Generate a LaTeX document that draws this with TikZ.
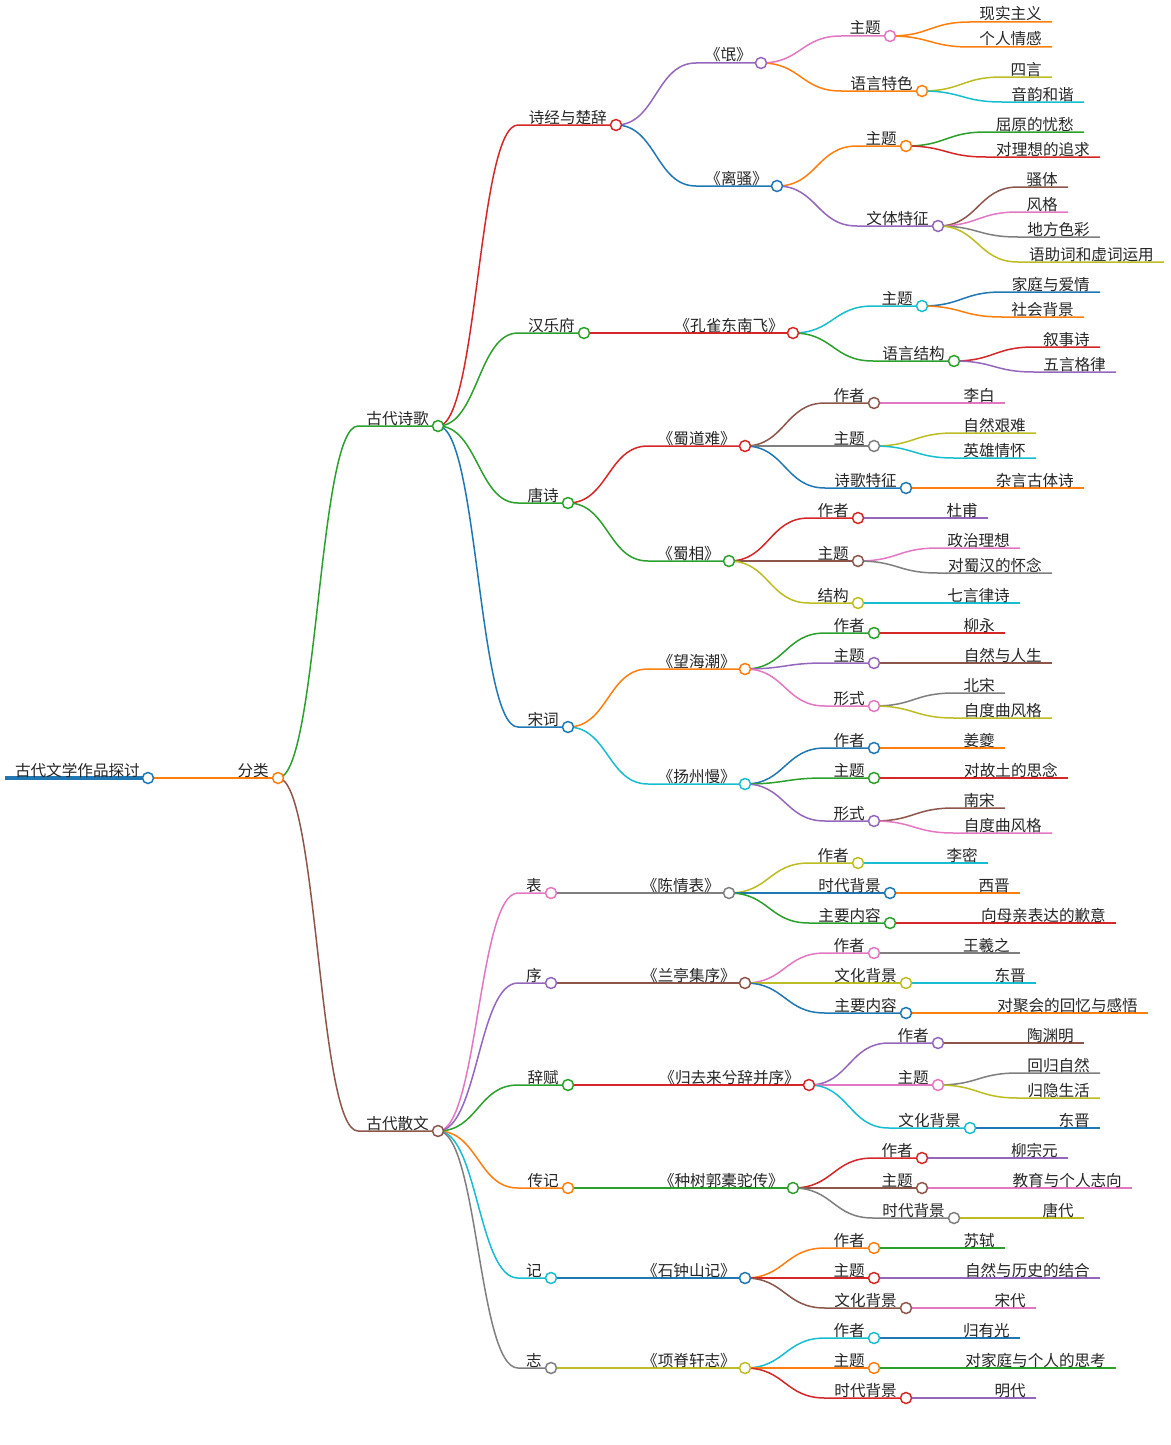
\documentclass[tikz,border=0pt]{standalone}
\usepackage{fontspec}
\newfontfamily\cjk{Noto Sans CJK SC}
\usetikzlibrary{calc}
\pgfdeclarelayer{back}
\pgfdeclarelayer{bg}
\pgfsetlayers{back,bg,main}
\definecolor{mmblue}{HTML}{1F77B4}
\definecolor{mmorange}{HTML}{FF7F0E}
\definecolor{mmgreen}{HTML}{2CA02C}
\definecolor{mmred}{HTML}{D62728}
\definecolor{mmpurple}{HTML}{9467BD}
\definecolor{mmbrown}{HTML}{8C564B}
\definecolor{mmpink}{HTML}{E377C2}
\definecolor{mmgray}{HTML}{7F7F7F}
\definecolor{mmolive}{HTML}{BCBD22}
\definecolor{mmcyan}{HTML}{17BECF}
\tikzset{
  mmline/.style={line width=1.5pt},
  mmdot/.style={circle, draw, fill=white, line width=1.5pt, minimum size=11pt, inner sep=0pt},
  mmtxt/.style={font=\cjk\fontsize{15.6}{18}\selectfont, inner sep=0pt, text=black!85},
}
\newcommand\mmedge[3]{%
  \begin{pgfonlayer}{bg}
  \draw[mmline,#3] let \p1=(#2), \p2=(#1) in (\p1) .. controls (\x1+40pt,\y1) and (\x1+40pt,\y2) .. (\x1+80pt,\y2) -- (\p2);
  \end{pgfonlayer}}
\newcommand\mmc[6]{%
  \coordinate (#1) at (#5,#4);
  \mmedge{#1}{#2}{#3}
  \node[mmtxt,anchor=base east] (#1-t) at (#5-9,#4-2) {#6};
  \node[mmdot,draw=#3] (#1-c) at (#1) {};}
\newcommand\mml[6]{%
  \coordinate (#1) at (#5,#4);
  \mmedge{#1}{#2}{#3}
  \node[mmtxt,anchor=base east] (#1-t) at (#5-10,#4-2) {#6};}
\begin{document}
\begin{tikzpicture}[x=1pt,y=-1pt]
\useasboundingbox (0,0) rectangle (1170,1445);
\begin{pgfonlayer}{back}
\fill[white] (0,0) rectangle (1170,1445);
\end{pgfonlayer}
% root
\coordinate (root-s) at (5,778);
\coordinate (root) at (148,778);
\begin{pgfonlayer}{bg}
\draw[mmblue,line width=4pt] (root-s) -- (root);
\end{pgfonlayer}
\node[mmtxt,anchor=base east] (root-t) at (140,776) {古代文学作品探讨};
\node[mmdot,draw=mmblue] (root-c) at (root) {};
% level 1-2
\mmc{fl}{root}{mmorange}{778}{278}{分类}
\mmc{sg}{fl}{mmgreen}{426}{438}{古代诗歌}
\mmc{sw}{fl}{mmbrown}{1131}{438}{古代散文}
% 古代诗歌
\mmc{sj}{sg}{mmred}{125}{616}{诗经与楚辞}
\mmc{hy}{sg}{mmgreen}{333}{584}{汉乐府}
\mmc{ts}{sg}{mmgreen}{503}{568}{唐诗}
\mmc{sc}{sg}{mmblue}{727}{568}{宋词}
% 诗经与楚辞
\mmc{mang}{sj}{mmpurple}{63}{761}{《氓》}
\mmc{ls}{sj}{mmblue}{186}{777}{《离骚》}
\mmc{mzt}{mang}{mmpink}{36}{890}{主题}
\mmc{myy}{mang}{mmorange}{91}{922}{语言特色}
\mml{mzt1}{mzt}{mmorange}{22}{1052}{现实主义}
\mml{mzt2}{mzt}{mmorange}{47}{1052}{个人情感}
\mml{myy1}{myy}{mmolive}{77}{1052}{四言}
\mml{myy2}{myy}{mmcyan}{102}{1084}{音韵和谐}
\mmc{lzt}{ls}{mmorange}{146}{906}{主题}
\mmc{lwt}{ls}{mmpurple}{226}{938}{文体特征}
\mml{lzt1}{lzt}{mmgreen}{132}{1084}{屈原的忧愁}
\mml{lzt2}{lzt}{mmred}{157}{1100}{对理想的追求}
\mml{lwt1}{lwt}{mmbrown}{187}{1068}{骚体}
\mml{lwt2}{lwt}{mmpink}{212}{1068}{风格}
\mml{lwt3}{lwt}{mmgray}{237}{1100}{地方色彩}
\mml{lwt4}{lwt}{mmolive}{262}{1164}{语助词和虚词运用}
% 汉乐府
\mmc{kq}{hy}{mmred}{333}{793}{《孔雀东南飞》}
\mmc{kqzt}{kq}{mmcyan}{306}{922}{主题}
\mmc{kqyy}{kq}{mmgreen}{361}{954}{语言结构}
\mml{kqzt1}{kqzt}{mmblue}{292}{1100}{家庭与爱情}
\mml{kqzt2}{kqzt}{mmorange}{317}{1084}{社会背景}
\mml{kqyy1}{kqyy}{mmred}{347}{1100}{叙事诗}
\mml{kqyy2}{kqyy}{mmpurple}{372}{1116}{五言格律}
% 唐诗
\mmc{sd}{ts}{mmred}{446}{745}{《蜀道难》}
\mmc{sx}{ts}{mmgreen}{561}{729}{《蜀相》}
\mmc{sdzz}{sd}{mmbrown}{403}{874}{作者}
\mmc{sdzt}{sd}{mmgray}{446}{874}{主题}
\mmc{sdtz}{sd}{mmblue}{488}{906}{诗歌特征}
\mml{sdzz1}{sdzz}{mmpink}{403}{1005}{李白}
\mml{sdzt1}{sdzt}{mmolive}{433}{1036}{自然艰难}
\mml{sdzt2}{sdzt}{mmcyan}{458}{1036}{英雄情怀}
\mml{sdtz1}{sdtz}{mmorange}{488}{1084}{杂言古体诗}
\mmc{sxzz}{sx}{mmred}{518}{858}{作者}
\mmc{sxzt}{sx}{mmbrown}{561}{858}{主题}
\mmc{sxjg}{sx}{mmolive}{603}{858}{结构}
\mml{sxzz1}{sxzz}{mmpurple}{518}{988}{杜甫}
\mml{sxzt1}{sxzt}{mmpink}{548}{1020}{政治理想}
\mml{sxzt2}{sxzt}{mmgray}{573}{1052}{对蜀汉的怀念}
\mml{sxjg1}{sxjg}{mmcyan}{603}{1020}{七言律诗}
% 宋词
\mmc{wh}{sc}{mmorange}{669}{745}{《望海潮》}
\mmc{yz}{sc}{mmcyan}{784}{745}{《扬州慢》}
\mmc{whzz}{wh}{mmgreen}{633}{874}{作者}
\mmc{whzt}{wh}{mmpurple}{663}{874}{主题}
\mmc{whxs}{wh}{mmpink}{706}{874}{形式}
\mml{whzz1}{whzz}{mmred}{633}{1005}{柳永}
\mml{whzt1}{whzt}{mmbrown}{663}{1052}{自然与人生}
\mml{whxs1}{whxs}{mmgray}{693}{1005}{北宋}
\mml{whxs2}{whxs}{mmolive}{718}{1052}{自度曲风格}
\mmc{yzzz}{yz}{mmblue}{748}{874}{作者}
\mmc{yzzt}{yz}{mmgreen}{778}{874}{主题}
\mmc{yzxs}{yz}{mmpurple}{821}{874}{形式}
\mml{yzzz1}{yzzz}{mmorange}{748}{1005}{姜夔}
\mml{yzzt1}{yzzt}{mmred}{778}{1068}{对故土的思念}
\mml{yzxs1}{yzxs}{mmbrown}{808}{1005}{南宋}
\mml{yzxs2}{yzxs}{mmpink}{833}{1052}{自度曲风格}
% 古代散文
\mmc{biao}{sw}{mmpink}{893}{551}{表}
\mmc{xu}{sw}{mmpurple}{983}{551}{序}
\mmc{cf}{sw}{mmgreen}{1085}{568}{辞赋}
\mmc{zj}{sw}{mmorange}{1188}{568}{传记}
\mmc{ji}{sw}{mmcyan}{1278}{551}{记}
\mmc{zhi}{sw}{mmgray}{1368}{551}{志}
% 表
\mmc{cq}{biao}{mmgray}{893}{729}{《陈情表》}
\mmc{cqzz}{cq}{mmolive}{863}{858}{作者}
\mmc{cqbj}{cq}{mmblue}{893}{890}{时代背景}
\mmc{cqnr}{cq}{mmgreen}{923}{890}{主要内容}
\mml{cqzz1}{cqzz}{mmcyan}{863}{988}{李密}
\mml{cqbj1}{cqbj}{mmorange}{893}{1020}{西晋}
\mml{cqnr1}{cqnr}{mmred}{923}{1116}{向母亲表达的歉意}
% 序
\mmc{lt}{xu}{mmbrown}{983}{745}{《兰亭集序》}
\mmc{ltzz}{lt}{mmpink}{953}{874}{作者}
\mmc{ltbj}{lt}{mmolive}{983}{906}{文化背景}
\mmc{ltnr}{lt}{mmblue}{1013}{906}{主要内容}
\mml{ltzz1}{ltzz}{mmgray}{953}{1020}{王羲之}
\mml{ltbj1}{ltbj}{mmcyan}{983}{1036}{东晋}
\mml{ltnr1}{ltnr}{mmorange}{1013}{1148}{对聚会的回忆与感悟}
% 辞赋
\mmc{gq}{cf}{mmred}{1085}{809}{《归去来兮辞并序》}
\mmc{gqzz}{gq}{mmpurple}{1043}{938}{作者}
\mmc{gqzt}{gq}{mmpink}{1085}{938}{主题}
\mmc{gqbj}{gq}{mmcyan}{1128}{970}{文化背景}
\mml{gqzz1}{gqzz}{mmbrown}{1043}{1084}{陶渊明}
\mml{gqzt1}{gqzt}{mmgray}{1073}{1100}{回归自然}
\mml{gqzt2}{gqzt}{mmolive}{1098}{1100}{归隐生活}
\mml{gqbj1}{gqbj}{mmblue}{1128}{1100}{东晋}
% 传记
\mmc{zs}{zj}{mmgreen}{1188}{793}{《种树郭橐驼传》}
\mmc{zszz}{zs}{mmred}{1158}{922}{作者}
\mmc{zszt}{zs}{mmbrown}{1188}{922}{主题}
\mmc{zsbj}{zs}{mmgray}{1218}{954}{时代背景}
\mml{zszz1}{zszz}{mmpurple}{1158}{1068}{柳宗元}
\mml{zszt1}{zszt}{mmpink}{1188}{1132}{教育与个人志向}
\mml{zsbj1}{zsbj}{mmolive}{1218}{1084}{唐代}
% 记
\mmc{szs}{ji}{mmblue}{1278}{745}{《石钟山记》}
\mmc{szszz}{szs}{mmorange}{1248}{874}{作者}
\mmc{szszt}{szs}{mmred}{1278}{874}{主题}
\mmc{szsbj}{szs}{mmbrown}{1308}{906}{文化背景}
\mml{szszz1}{szszz}{mmgreen}{1248}{1005}{苏轼}
\mml{szszt1}{szszt}{mmpurple}{1278}{1100}{自然与历史的结合}
\mml{szsbj1}{szsbj}{mmpink}{1308}{1036}{宋代}
% 志
\mmc{xj}{zhi}{mmolive}{1368}{745}{《项脊轩志》}
\mmc{xjzz}{xj}{mmcyan}{1338}{874}{作者}
\mmc{xjzt}{xj}{mmorange}{1368}{874}{主题}
\mmc{xjbj}{xj}{mmred}{1398}{906}{时代背景}
\mml{xjzz1}{xjzz}{mmblue}{1338}{1020}{归有光}
\mml{xjzt1}{xjzt}{mmgreen}{1368}{1116}{对家庭与个人的思考}
\mml{xjbj1}{xjbj}{mmpurple}{1398}{1036}{明代}
\end{tikzpicture}
\end{document}
